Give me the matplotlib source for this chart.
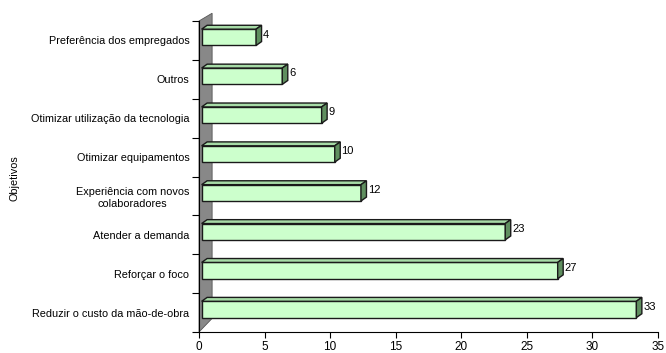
import matplotlib
matplotlib.use("Agg")
import matplotlib.pyplot as plt
from matplotlib.patches import Polygon

plt.rcParams['font.family'] = ['Liberation Sans', 'DejaVu Sans']

# data, bottom to top
categorias = ["Reduzir o custo da mão-de-obra", "Reforçar o foco", "Atender a demanda",
              "Experiência com novos\ncolaboradores", "Otimizar equipamentos",
              "Otimizar utilização da tecnologia", "Outros", "Preferência dos empregados"]
valores = [33, 27, 23, 12, 10, 9, 6, 4]
xticks = [0, 5, 10, 15, 20, 25, 30, 35]

face = '#ccffcc'
topc = '#a6dba6'
sidec = '#5f8f5f'
edge = '#1a1a1a'

def main():
    fig = plt.figure(figsize=(6.66, 3.53), dpi=100)
    ax = fig.add_axes([199 / 666, 21 / 353, 459 / 666, 311 / 353])
    ax.set_xlim(0, 35)
    ax.set_ylim(-0.5, len(categorias) - 0.5)

    # 3d look: depth in data units
    dx, dy = 0.42, 0.10
    h = 0.42
    x0 = 0.2
    lift = 0.08

    # gray wall
    n = len(categorias)
    wall = Polygon([(0, -0.5), (0, n - 0.5), (1.0, n - 0.3), (1.0, -0.15)],
                   closed=True, facecolor='#888888', edgecolor='#555555', lw=0.6,
                   clip_on=False, zorder=1)
    ax.add_patch(wall)

    for i, v in enumerate(valores):
        yc = i + lift
        x1 = x0 + v + 0.15
        ax.barh(yc, x1 - x0, left=x0, height=h, color=face, edgecolor=edge,
                linewidth=1.0, zorder=3)
        top = Polygon([(x0, yc + h / 2), (x1, yc + h / 2), (x1 + dx, yc + h / 2 + dy),
                       (x0 + dx, yc + h / 2 + dy)], closed=True, facecolor=topc,
                      edgecolor=edge, lw=1.0, zorder=3, clip_on=False)
        side = Polygon([(x1, yc - h / 2), (x1, yc + h / 2), (x1 + dx, yc + h / 2 + dy),
                        (x1 + dx, yc - h / 2 + dy)], closed=True, facecolor=sidec,
                       edgecolor=edge, lw=1.0, zorder=3, clip_on=False)
        ax.add_patch(top)
        ax.add_patch(side)
        ax.text(x1 + dx + 0.1, yc + dy - 0.03, str(v), ha='left', va='center',
                fontsize=8, color='black', zorder=4)

    for s in ['top', 'right']:
        ax.spines[s].set_visible(False)
    ax.spines['left'].set_color('black')
    ax.spines['bottom'].set_color('black')
    ax.spines['left'].set_zorder(2)

    ax.set_xticks(xticks)
    ax.tick_params(axis='x', length=4, labelsize=8.5, direction='out', pad=2.5)

    ax.set_yticks([i - 0.5 for i in range(n + 1)])
    ax.set_yticklabels([])
    ax.set_yticks(range(n), minor=True)
    ax.set_yticklabels(categorias, minor=True)
    ax.tick_params(axis='y', which='major', length=5, direction='out')
    ax.tick_params(axis='y', which='minor', length=0, labelsize=7.8, pad=7)
    for lab in ax.get_yticklabels(minor=True):
        lab.set_multialignment('center')

    fig.text(0.022, 0.496, "Objetivos", rotation=90, ha='center', va='center', fontsize=7.8)

    fig.savefig("out.png", dpi=100)


if __name__ == '__main__':
    main()
